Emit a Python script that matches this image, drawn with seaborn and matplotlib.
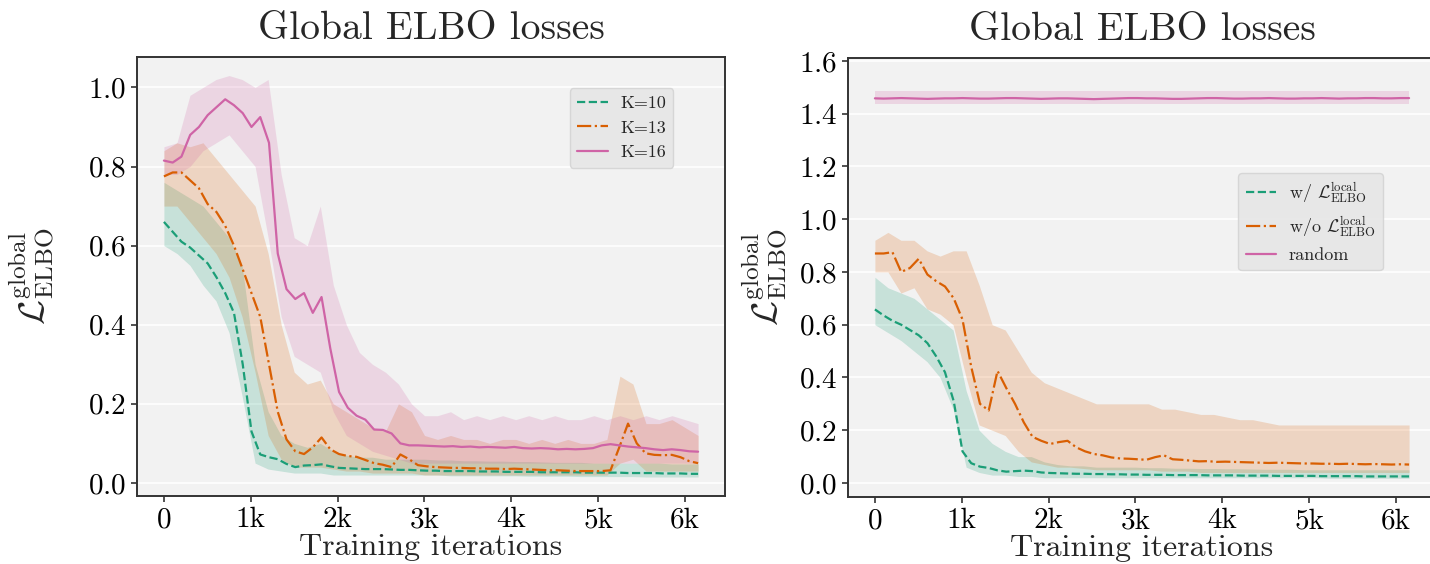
import numpy as np
import pandas as pd
import seaborn as sns
import matplotlib.pyplot as plt

# iteration grids: smoothed curves (~100 it step) and raw noise envelopes (150 it step)
iters = np.linspace(0, 6150, 62)
band_iters = np.linspace(0, 6150, 42)

# ---- left panel: different K ----
k10_smooth = [0.66, 0.635, 0.61, 0.595, 0.575, 0.555, 0.52, 0.48, 0.43, 0.30, 0.13, 0.072,
              0.065, 0.06, 0.048, 0.04, 0.044, 0.045, 0.047, 0.042, 0.038, 0.037, 0.036, 0.035,
              0.035, 0.035, 0.034, 0.033, 0.033, 0.032, 0.031, 0.031, 0.030, 0.030, 0.030, 0.030,
              0.029, 0.029, 0.029, 0.028, 0.028, 0.028, 0.028, 0.027, 0.027, 0.027, 0.027, 0.027,
              0.026, 0.026, 0.026, 0.026, 0.026, 0.025, 0.025, 0.025, 0.025, 0.024, 0.024, 0.024,
              0.023, 0.023]
k13_smooth = [0.775, 0.785, 0.785, 0.765, 0.745, 0.705, 0.685, 0.65, 0.60, 0.54, 0.48, 0.42,
              0.30, 0.18, 0.11, 0.08, 0.073, 0.09, 0.115, 0.085, 0.073, 0.068, 0.066, 0.058,
              0.05, 0.046, 0.04, 0.072, 0.06, 0.045, 0.042, 0.04, 0.039, 0.038, 0.038, 0.037,
              0.037, 0.036, 0.036, 0.035, 0.036, 0.035, 0.034, 0.033, 0.032, 0.032, 0.031, 0.030,
              0.030, 0.030, 0.030, 0.032, 0.09, 0.15, 0.10, 0.075, 0.071, 0.07, 0.071, 0.065,
              0.055, 0.05]
k16_smooth = [0.815, 0.81, 0.825, 0.88, 0.90, 0.93, 0.95, 0.97, 0.955, 0.935, 0.90, 0.925,
              0.86, 0.58, 0.49, 0.465, 0.48, 0.43, 0.47, 0.34, 0.23, 0.19, 0.17, 0.16,
              0.135, 0.134, 0.125, 0.10, 0.095, 0.095, 0.094, 0.093, 0.092, 0.093, 0.091, 0.092,
              0.090, 0.091, 0.090, 0.089, 0.091, 0.088, 0.087, 0.088, 0.087, 0.085, 0.086, 0.085,
              0.086, 0.088, 0.095, 0.098, 0.095, 0.092, 0.09, 0.088, 0.085, 0.083, 0.085, 0.083,
              0.08, 0.079]

k10_lo = [0.60, 0.58, 0.55, 0.50, 0.46, 0.38, 0.22, 0.05, 0.035, 0.03, 0.025, 0.025, 0.025, 0.02,
          0.02, 0.02, 0.02, 0.02, 0.02, 0.02, 0.02, 0.02, 0.018, 0.018, 0.018, 0.018, 0.018, 0.018,
          0.017, 0.017, 0.017, 0.017, 0.016, 0.016, 0.016, 0.016, 0.016, 0.015, 0.015, 0.015,
          0.015, 0.015]
k10_hi = [0.76, 0.74, 0.72, 0.70, 0.66, 0.62, 0.55, 0.30, 0.18, 0.12, 0.10, 0.09, 0.10, 0.08,
          0.07, 0.065, 0.065, 0.06, 0.06, 0.06, 0.06, 0.058, 0.058, 0.056, 0.056, 0.055, 0.055,
          0.054, 0.054, 0.053, 0.052, 0.052, 0.052, 0.05, 0.05, 0.05, 0.05, 0.05, 0.05, 0.048,
          0.048, 0.048]
k13_lo = [0.70, 0.70, 0.66, 0.62, 0.58, 0.52, 0.42, 0.28, 0.12, 0.06, 0.04, 0.04, 0.04, 0.035,
          0.03, 0.03, 0.025, 0.025, 0.025, 0.025, 0.02, 0.02, 0.02, 0.02, 0.02, 0.02, 0.02, 0.02,
          0.02, 0.02, 0.02, 0.02, 0.02, 0.02, 0.02, 0.05, 0.06, 0.03, 0.03, 0.03, 0.03, 0.03]
k13_hi = [0.84, 0.86, 0.85, 0.86, 0.82, 0.78, 0.74, 0.70, 0.58, 0.40, 0.28, 0.25, 0.26, 0.20,
          0.18, 0.16, 0.14, 0.13, 0.20, 0.18, 0.12, 0.11, 0.12, 0.11, 0.11, 0.10, 0.11, 0.11,
          0.10, 0.11, 0.10, 0.11, 0.10, 0.10, 0.11, 0.27, 0.25, 0.15, 0.15, 0.16, 0.14, 0.12]
k16_lo = [0.78, 0.78, 0.80, 0.84, 0.86, 0.88, 0.84, 0.80, 0.62, 0.42, 0.32, 0.30, 0.28, 0.18,
          0.12, 0.10, 0.08, 0.07, 0.06, 0.05, 0.05, 0.05, 0.05, 0.05, 0.05, 0.05, 0.05, 0.05,
          0.05, 0.05, 0.05, 0.05, 0.05, 0.05, 0.05, 0.05, 0.05, 0.05, 0.05, 0.05, 0.05, 0.05]
k16_hi = [0.85, 0.86, 0.98, 1.00, 1.02, 1.03, 1.02, 1.00, 1.02, 0.78, 0.62, 0.60, 0.70, 0.50,
          0.40, 0.33, 0.30, 0.28, 0.25, 0.20, 0.17, 0.17, 0.18, 0.16, 0.17, 0.16, 0.17, 0.16,
          0.17, 0.16, 0.17, 0.16, 0.16, 0.17, 0.16, 0.17, 0.16, 0.17, 0.16, 0.17, 0.16, 0.15]

# ---- right panel: local ELBO ablation ----
wl_smooth = [0.658, 0.635, 0.615, 0.60, 0.58, 0.56, 0.53, 0.48, 0.42, 0.31, 0.12, 0.075,
             0.062, 0.057, 0.048, 0.043, 0.045, 0.047, 0.045, 0.04, 0.038, 0.037, 0.036, 0.035,
             0.035, 0.034, 0.034, 0.033, 0.033, 0.032, 0.032, 0.031, 0.031, 0.031, 0.030, 0.030,
             0.030, 0.030, 0.029, 0.029, 0.029, 0.029, 0.028, 0.028, 0.028, 0.028, 0.027, 0.027,
             0.027, 0.027, 0.027, 0.026, 0.026, 0.026, 0.026, 0.026, 0.025, 0.025, 0.025, 0.025,
             0.025, 0.025]
wol_smooth = [0.87, 0.87, 0.875, 0.80, 0.815, 0.85, 0.79, 0.765, 0.745, 0.70, 0.62, 0.44,
              0.30, 0.275, 0.425, 0.36, 0.30, 0.23, 0.175, 0.16, 0.148, 0.155, 0.16, 0.135,
              0.12, 0.11, 0.105, 0.097, 0.093, 0.092, 0.09, 0.088, 0.098, 0.105, 0.09, 0.088,
              0.085, 0.082, 0.083, 0.08, 0.081, 0.08, 0.079, 0.078, 0.077, 0.076, 0.077, 0.076,
              0.075, 0.074, 0.074, 0.073, 0.073, 0.072, 0.073, 0.072, 0.071, 0.072, 0.071, 0.070,
              0.071, 0.070]
rand_smooth = [1.458, 1.457, 1.458, 1.459, 1.458, 1.457, 1.456, 1.457, 1.458, 1.458, 1.459, 1.458,
               1.457, 1.457, 1.458, 1.459, 1.459, 1.458, 1.457, 1.456, 1.457, 1.458, 1.458, 1.457,
               1.456, 1.455, 1.456, 1.457, 1.458, 1.459, 1.459, 1.458, 1.458, 1.457, 1.456, 1.456,
               1.457, 1.458, 1.459, 1.459, 1.458, 1.457, 1.457, 1.458, 1.458, 1.459, 1.458, 1.457,
               1.457, 1.458, 1.458, 1.459, 1.458, 1.457, 1.458, 1.458, 1.459, 1.459, 1.458, 1.458,
               1.459, 1.459]

wl_lo = [0.60, 0.57, 0.54, 0.50, 0.46, 0.40, 0.28, 0.06, 0.04, 0.03, 0.03, 0.025, 0.025, 0.02,
         0.02, 0.02, 0.02, 0.02, 0.02, 0.02, 0.02, 0.02, 0.02, 0.02, 0.02, 0.02, 0.02, 0.02,
         0.02, 0.02, 0.02, 0.02, 0.02, 0.02, 0.02, 0.018, 0.018, 0.018, 0.018, 0.018, 0.018, 0.018]
wl_hi = [0.78, 0.74, 0.72, 0.70, 0.66, 0.62, 0.58, 0.35, 0.20, 0.15, 0.12, 0.10, 0.10, 0.08,
         0.07, 0.065, 0.065, 0.06, 0.06, 0.06, 0.06, 0.058, 0.058, 0.056, 0.056, 0.055, 0.055,
         0.054, 0.054, 0.053, 0.052, 0.052, 0.052, 0.05, 0.05, 0.05, 0.05, 0.05, 0.05, 0.05,
         0.05, 0.05]
wol_lo = [0.80, 0.80, 0.72, 0.74, 0.66, 0.64, 0.60, 0.40, 0.22, 0.20, 0.18, 0.12, 0.08, 0.07,
          0.06, 0.06, 0.055, 0.05, 0.05, 0.05, 0.05, 0.05, 0.045, 0.045, 0.045, 0.04, 0.04, 0.04,
          0.04, 0.04, 0.04, 0.04, 0.04, 0.04, 0.04, 0.04, 0.04, 0.04, 0.04, 0.04, 0.04, 0.04]
wol_hi = [0.92, 0.95, 0.92, 0.92, 0.88, 0.86, 0.88, 0.88, 0.75, 0.60, 0.58, 0.50, 0.42, 0.38,
          0.36, 0.34, 0.32, 0.30, 0.30, 0.30, 0.30, 0.30, 0.28, 0.28, 0.27, 0.26, 0.26, 0.25,
          0.24, 0.24, 0.23, 0.22, 0.22, 0.22, 0.22, 0.22, 0.22, 0.22, 0.22, 0.22, 0.22, 0.22]
rand_lo = [1.435] * 42
rand_hi = [1.485] * 42

GREEN, ORANGE, PINK = '#1b9e77', '#d95f02', '#cf64a6'
xtick_vals = [0, 1000, 2000, 3000, 4000, 5000, 6000]
xtick_labels = ['0', '1k', '2k', '3k', '4k', '5k', '6k']

sns.set_theme(style='whitegrid', rc={
    'axes.facecolor': '#f2f2f2',
    'axes.edgecolor': '#333333',
    'axes.linewidth': 1.4,
    'grid.color': 'white',
    'grid.linewidth': 1.2,
    'xtick.bottom': True, 'ytick.left': True,
    'xtick.major.size': 4, 'ytick.major.size': 4,
    'xtick.major.width': 1.2, 'ytick.major.width': 1.2,
    'xtick.color': '#333333', 'ytick.color': '#333333',
    'xtick.labelcolor': 'black', 'ytick.labelcolor': 'black',
})
plt.rcParams['font.family'] = ['cmr10']
plt.rcParams['mathtext.fontset'] = 'cm'
plt.rcParams['axes.formatter.use_mathtext'] = True

fig = plt.figure(figsize=(14.3, 5.64), dpi=100)
ax1 = fig.add_axes([0.0958, 0.1206, 0.4112, 0.7784])
ax2 = fig.add_axes([0.593, 0.1188, 0.4112, 0.7784])


def draw(ax, smooth, lo, hi, color, ls, label):
    ax.fill_between(band_iters, lo, hi, color=color, alpha=0.2, lw=0)
    sns.lineplot(x=iters, y=smooth, ax=ax, color=color, linestyle=ls, lw=1.6, label=label)


draw(ax1, k10_smooth, k10_lo, k10_hi, GREEN, '--', 'K=10')
draw(ax1, k13_smooth, k13_lo, k13_hi, ORANGE, '-.', 'K=13')
draw(ax1, k16_smooth, k16_lo, k16_hi, PINK, '-', 'K=16')

draw(ax2, wl_smooth, wl_lo, wl_hi, GREEN, '--', r'w/ $\mathcal{L}^{\mathrm{local}}_{\mathrm{ELBO}}$')
draw(ax2, wol_smooth, wol_lo, wol_hi, ORANGE, '-.', r'w/o $\mathcal{L}^{\mathrm{local}}_{\mathrm{ELBO}}$')
draw(ax2, rand_smooth, rand_lo, rand_hi, PINK, '-', 'random')

ax1.set_ylim(-0.033, 1.077)
ax1.set_yticks([0.0, 0.2, 0.4, 0.6, 0.8, 1.0])
ax2.set_ylim(-0.053, 1.611)
ax2.set_yticks([0.0, 0.2, 0.4, 0.6, 0.8, 1.0, 1.2, 1.4, 1.6])

ylab = r'$\mathcal{L}^{\mathrm{global}}_{\mathrm{ELBO}}$'
for ax in (ax1, ax2):
    ax.set_xlim(-310, 6460)
    ax.set_xticks(xtick_vals)
    ax.set_xticklabels(xtick_labels)
    ax.grid(axis='x', visible=False)
    ax.tick_params(labelsize=21, pad=4)
    ax.set_title('Global ELBO losses', fontsize=28.5, pad=13)
    ax.set_xlabel('Training iterations', fontsize=23, labelpad=0)
    for s in ax.spines.values():
        s.set_visible(True)
        s.set_color('#333333')

ax1.set_ylabel(ylab, fontsize=26, labelpad=22)
ax2.set_ylabel(ylab, fontsize=26, labelpad=6)

leg_kw = dict(loc='upper right', borderaxespad=0, fontsize=13, handlelength=1.7,
              handletextpad=0.7, facecolor='#e6e6e6', edgecolor='#d4d4d4', framealpha=0.9)
ax1.legend(bbox_to_anchor=(0.912, 0.929), **leg_kw)
ax2.legend(bbox_to_anchor=(0.91, 0.738), **leg_kw)

fig.savefig('out.png', dpi=100)
